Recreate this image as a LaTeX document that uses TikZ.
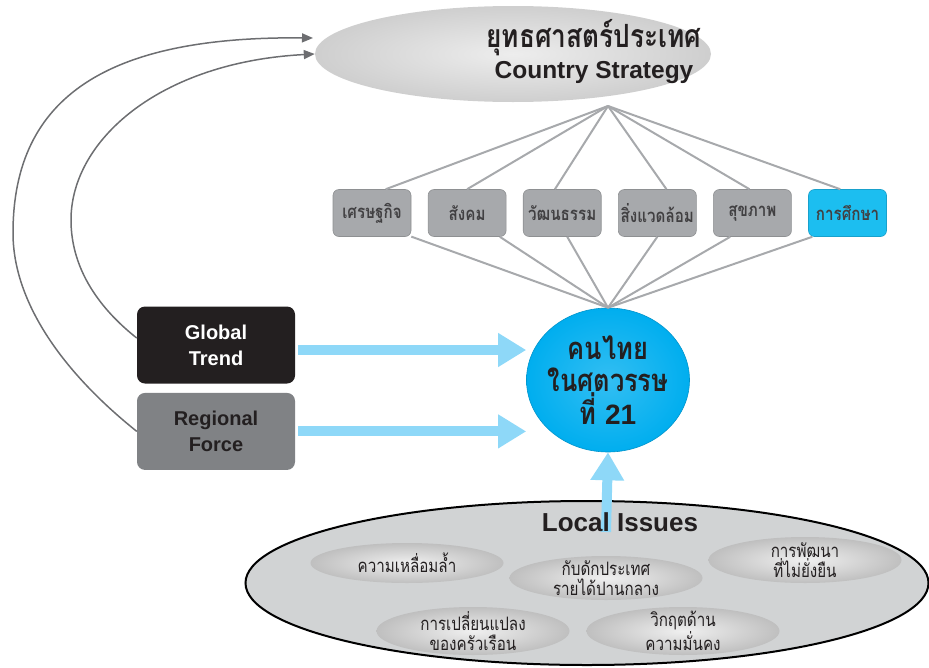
\documentclass[tikz,border=0pt]{standalone}
\usepackage{fontspec}
\setmainfont{Liberation Sans}
\newfontfamily\thaifont[Script=Thai,FakeStretch=0.82]{Loma}
\usetikzlibrary{positioning,arrows.meta,shapes.geometric}
\definecolor{aspectgray}{RGB}{167,169,172}
\definecolor{edublue}{RGB}{28,190,240}
\definecolor{trendblack}{RGB}{35,31,32}
\definecolor{forcegray}{RGB}{128,130,133}
\definecolor{thaiblue}{RGB}{0,174,239}
\definecolor{flowblue}{RGB}{142,216,248}
\definecolor{issuegray}{RGB}{209,211,212}
\definecolor{linkgray}{RGB}{167,169,172}
\definecolor{curvegray}{RGB}{109,110,113}
\definecolor{inkgray}{RGB}{65,64,66}

\begin{document}
\begin{tikzpicture}[x=1pt,y=-1pt,
    node distance=16.5pt,
    aspect/.style={rectangle, rounded corners=6pt, fill=aspectgray, draw=aspectgray!85!black, line width=0.6pt, minimum width=78pt, minimum height=47pt, inner sep=0pt, text=inkgray, font=\thaifont\bfseries\fontsize{18.5}{20}\selectfont},
    force/.style={rectangle, rounded corners=8pt, minimum width=158pt, minimum height=77pt, align=center, font=\bfseries\fontsize{20}{26}\selectfont},
    issue/.style={ellipse, inner xsep=0pt, inner ysep=-9pt, minimum width=193pt, minimum height=46pt, inner color=white!88!gray, outer color=gray!50, align=center, text=trendblack, font=\thaifont\fontsize{18.5}{19.5}\selectfont},
    link/.style={draw=linkgray, line width=2pt},
    fatarrow/.style={draw=flowblue, line width=10pt, -{Triangle[length=28pt,width=32pt]}},
    feedback/.style={draw=curvegray, line width=1.5pt, -{Triangle[length=11pt,width=9pt]}}
  ]
  \useasboundingbox (0,0) rectangle (929,667);

  % country strategy
  \node[ellipse, minimum width=396pt, minimum height=96pt, inner color=gray!14, outer color=gray!38] (strategy) at (513,54) {};
  \node[align=center, text=trendblack, font=\bfseries\fontsize{24.5}{31}\selectfont] (strategytitle) at (594,52) {{\thaifont\fontsize{32}{31}\selectfont ยุทธศาสตร์ประเทศ}\\Country Strategy};

  % six aspects
  \node[aspect] (econ) at (372,213) {เศรษฐกิจ};
  \node[aspect, right=of econ] (social) {สังคม};
  \node[aspect, right=of social] (culture) {วัฒนธรรม};
  \node[aspect, right=of culture] (environ) {สิ่งแวดล้อม};
  \node[aspect, right=of environ] (health) {สุขภาพ};
  \node[aspect, right=of health, fill=edublue, draw=edublue!85!black] (edu) {การศึกษา};

  % thai people
  \coordinate (apex) at (608,106);
  \node[ellipse, minimum width=163pt, minimum height=144pt, inner sep=-6pt, inner color=thaiblue!80!white, outer color=thaiblue, draw=thaiblue!85!black, line width=0.6pt, align=center, text=trendblack, font=\thaifont\bfseries\fontsize{31}{32}\selectfont] (thai) at (608,380) {คนไทย\\ในศตวรรษ\\ที่ {\rmfamily\fontsize{28}{32}\selectfont 21}};

  \foreach \asp/\up/\down in {econ/60/-31, social/90/-36, culture/107/-78, environ/69/-90, health/97/-133, edu/107/-146} {
    \draw[link] (apex) -- (\asp.\up);
    \draw[link] (\asp.\down) -- (thai.north);
  }

  % forces
  \node[force, fill=trendblack, text=white] (global) at (216,345) {Global\\Trend};
  \node[force, fill=forcegray, text=trendblack, below=9pt of global] (regional) {Regional\\Force};

  \draw[fatarrow] ([xshift=3pt,yshift=-5pt]global.east) -- ([yshift=-5pt]global.east -| thai.west);
  \draw[fatarrow] ([xshift=3pt]regional.east) -- (regional.east -| thai.west);

  \coordinate (outerend) at (313,38);
  \draw[feedback] (regional.west) .. controls (60,370) and (13,300) .. (13,233) .. controls (13,95) and (110,36) .. (outerend);
  \draw[feedback] (global.175) .. controls (95,305) and (71,265) .. (71,220) .. controls (71,140) and (160,62) .. (strategy.west);

  % local issues
  \node[ellipse, minimum width=683pt, minimum height=164pt, fill=issuegray, draw=black, line width=2pt] (local) at (587,583) {};
  \coordinate (localbase) at (606,532);
  \draw[fatarrow] (localbase) -- (thai.south);
  \node[text=trendblack, font=\bfseries\fontsize{26}{30}\selectfont] (localtitle) at (620,522) {Local Issues};

  \node[issue, minimum height=40pt] (inequality) at (407,563) {ความเหลื่อมล้ำ};
  \node[issue, minimum height=44pt] (midtrap) at (606,578) {กับดักประเทศ\\รายได้ปานกลาง};
  \node[issue] (unsustain) at (805,560) {การพัฒนา\\ที่ไม่ยั่งยืน};
  \node[issue, minimum height=48pt] (household) at (473,631) {การเปลี่ยนแปลง\\ของครัวเรือน};
  \node[issue, minimum height=48pt] (security) at (683,631) {วิกฤตด้าน\\ความมั่นคง};
\end{tikzpicture}
\end{document}
